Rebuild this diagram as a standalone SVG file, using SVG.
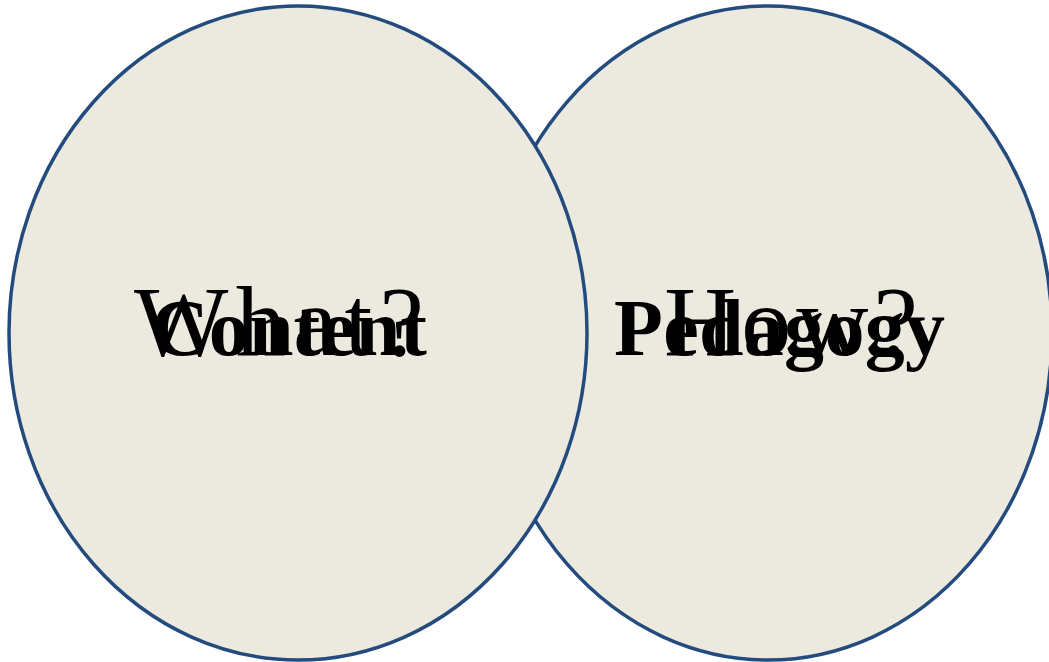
<svg xmlns="http://www.w3.org/2000/svg" width="1049" height="662" viewBox="0 0 1049 662">
<style>
.c{fill:#ECEADF;stroke:#234B7E;stroke-width:3.5}
.big{font-family:"Liberation Serif","Times New Roman",serif;font-size:100px;fill:#000}
.sm{font-family:"Liberation Serif","Times New Roman",serif;font-weight:bold;font-size:80px;fill:#000}
</style>
<g id="pedagogy">
<ellipse class="c" cx="768" cy="333" rx="284" ry="327"/>
<text class="big" x="664" y="355" textLength="254" lengthAdjust="spacing">How?</text>
<text class="sm" x="614" y="355" textLength="331" lengthAdjust="spacing">Pedagogy</text>
</g>
<g id="content">
<ellipse class="c" cx="298" cy="333" rx="289" ry="327"/>
<text class="big" x="134" y="355" textLength="290" lengthAdjust="spacing">What?</text>
<text class="sm" x="151" y="355" textLength="276" lengthAdjust="spacing">Content</text>
</g>
<g id="connectors"/>
</svg>
